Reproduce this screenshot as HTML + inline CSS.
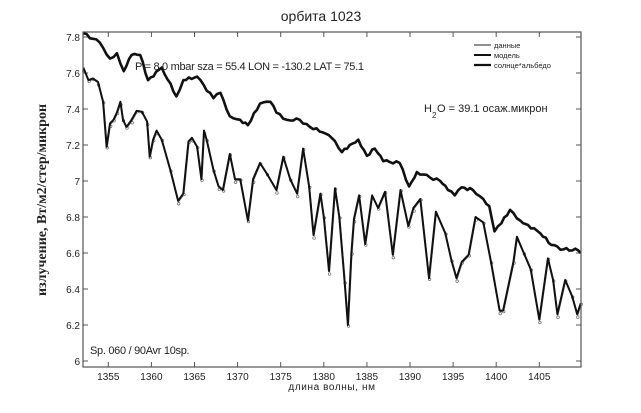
<!DOCTYPE html>
<html><head><meta charset="utf-8"><style>
html,body{margin:0;padding:0;background:#fff;}
svg{display:block;}
text{font-family:"Liberation Sans",sans-serif;fill:#222;}
</style></head><body>
<svg id="s" width="641" height="413" viewBox="0 0 641 413" xmlns="http://www.w3.org/2000/svg">
<rect x="0" y="0" width="641" height="413" fill="#fff"/>
<text x="321" y="21" font-size="14" text-anchor="middle">орбита 1023</text>
<g id="ax"></g>
<g id="curves"></g>
<rect x="83" y="32" width="498" height="335" fill="none" stroke="#555" stroke-width="1.2"/>
<text x="135" y="70" font-size="11" letter-spacing="-0.3">P   = 8.0 mbar sza = 55.4 LON = -130.2 LAT = 75.1</text>
<text x="424" y="112" font-size="11">H</text><text x="432" y="118" font-size="8">2</text><text x="437" y="112" font-size="11">O = 39.1 осаж.микрон</text>
<text x="90" y="354" font-size="11" letter-spacing="-0.3">Sp. 060 / 90Avr 10sp.</text>
<text x="332" y="390" font-size="10" text-anchor="middle" letter-spacing="0.6">длина волны, нм</text>
<text transform="translate(46,200) rotate(-90)" font-size="14" font-weight="bold" text-anchor="middle" style="font-family:'Liberation Serif',serif">излучение, Вт/м2/стер/микрон</text>
<g font-size="7.5">
<line x1="474" y1="45" x2="491" y2="45" stroke="#222" stroke-width="1"/><text x="494" y="48">данные</text>
<line x1="474" y1="55" x2="491" y2="55" stroke="#111" stroke-width="2"/><text x="494" y="58">модель</text>
<line x1="474" y1="65" x2="491" y2="65" stroke="#111" stroke-width="2.2"/><text x="494" y="68">солнце*альбедо</text>
</g>
</svg>
<script>
(function(){
var X=function(v){return 108.3+(v-1355)*8.62;};
var Y=function(a){return 361-(a-6)*180;};
var ns="http://www.w3.org/2000/svg";
var ax=document.getElementById('ax'),cv=document.getElementById('curves');
function el(p,t,a){var e=document.createElementNS(ns,t);for(var k in a)e.setAttribute(k,a[k]);p.appendChild(e);return e;}
for(var v=1355;v<=1405;v+=5){var x=X(v);
el(ax,'line',{x1:x,y1:367,x2:x,y2:362,stroke:'#555'});el(ax,'line',{x1:x,y1:32,x2:x,y2:37,stroke:'#555'});
var t=el(ax,'text',{x:x,y:380,'font-size':10,'text-anchor':'middle'});t.textContent=v;}
for(var i=0;i<=9;i++){var a=6+i*0.2,y=Y(a);
el(ax,'line',{x1:83,y1:y,x2:88,y2:y,stroke:'#555'});el(ax,'line',{x1:581,y1:y,x2:576,y2:y,stroke:'#555'});
var t=el(ax,'text',{x:80,y:y+4,'font-size':10,'text-anchor':'end'});t.textContent=(i%5==0)?String(Math.round(a)):a.toFixed(1);}
var sun=[[1352.1,7.82],[1354.0,7.77],[1355.2,7.68],[1356,7.71],[1356.8,7.61],[1357.7,7.70],[1358.7,7.70],[1359.6,7.56],[1361.2,7.63],[1362.9,7.47],[1363.7,7.56],[1365.3,7.58],[1367.2,7.46],[1368,7.49],[1369.1,7.36],[1370.3,7.34],[1371.2,7.31],[1372.6,7.43],[1373.8,7.44],[1374.5,7.38],[1375.7,7.34],[1377.2,7.34],[1378.4,7.30],[1379.9,7.27],[1380.9,7.24],[1382.1,7.16],[1383,7.20],[1384,7.23],[1385,7.14],[1385.9,7.18],[1386.9,7.11],[1388.8,7.10],[1389.9,6.97],[1390.8,7.05],[1392.3,7.02],[1393.5,7.00],[1394.4,6.95],[1395.2,6.92],[1396,6.965],[1397.3,6.95],[1398.5,6.90],[1399.2,6.86],[1399.8,6.72],[1400.6,6.765],[1401.6,6.84],[1402.8,6.78],[1403.7,6.755],[1405.1,6.71],[1406.4,6.645],[1407.8,6.62],[1409.5,6.615],[1409.8,6.60]];
// densify with small deterministic wiggle
var sd=[];
for(var j=0;j<sun.length-1;j++){var a0=sun[j],a1=sun[j+1];var n=Math.max(1,Math.round((a1[0]-a0[0])/0.35));
for(var k=0;k<n;k++){var f=k/n;var w=(k==0)?0:0.008*Math.sin(j*7.3+k*2.1);sd.push([a0[0]+(a1[0]-a0[0])*f,a0[1]+(a1[1]-a0[1])*f+w]);}}
sd.push(sun[sun.length-1]);
var low=[[1352.1,7.63],[1352.7,7.56],[1353.2,7.57],[1353.8,7.55],[1354.4,7.44],[1354.8,7.19],[1355.2,7.32],[1355.6,7.34],[1356.0,7.38],[1356.4,7.44],[1356.7,7.34],[1357.1,7.30],[1357.7,7.34],[1358.3,7.39],[1358.9,7.385],[1359.5,7.33],[1359.8,7.135],[1360.2,7.23],[1360.6,7.28],[1361.2,7.23],[1362.2,7.06],[1363.1,6.89],[1363.7,6.93],[1364.3,7.22],[1364.7,7.24],[1365.3,7.19],[1365.8,7.01],[1366.1,7.28],[1366.4,7.23],[1367.2,7.06],[1367.8,6.97],[1368.3,6.95],[1369.1,7.15],[1369.7,7.01],[1370.3,7.01],[1371.2,6.78],[1371.8,7.01],[1372.6,7.10],[1373.4,7.04],[1374.5,6.95],[1375.3,7.135],[1376.1,7.01],[1376.9,6.93],[1377.6,7.18],[1378.3,6.97],[1378.8,6.70],[1379.6,6.93],[1380.0,6.80],[1380.6,6.50],[1381.3,6.96],[1381.8,6.80],[1382.4,6.45],[1382.8,6.20],[1383.2,6.60],[1383.5,6.79],[1384.1,6.92],[1384.8,6.65],[1385.6,6.92],[1386.3,6.85],[1387.1,6.94],[1388.0,6.59],[1388.9,6.95],[1389.8,6.75],[1390.4,6.85],[1391.2,6.90],[1392.2,6.46],[1393.0,6.83],[1394.1,6.71],[1394.8,6.56],[1395.4,6.46],[1396.0,6.55],[1396.8,6.59],[1397.6,6.80],[1398.5,6.77],[1399.4,6.55],[1400.4,6.28],[1400.8,6.28],[1402.0,6.55],[1402.4,6.69],[1403.2,6.60],[1404.0,6.51],[1405.0,6.23],[1406.0,6.57],[1406.6,6.45],[1407.1,6.26],[1408.0,6.45],[1408.8,6.36],[1409.4,6.26],[1409.8,6.32]];
function pts(d,dx,dy){return d.map(function(p){return (X(p[0])+dx).toFixed(1)+','+(Y(p[1])+dy).toFixed(1);}).join(' ');}
el(cv,'polyline',{points:pts(low,0.6,1),fill:'none',stroke:'#888',"stroke-width":1});
low.forEach(function(p,i){el(cv,'circle',{cx:X(p[0])+0.6,cy:Y(p[1])+(i%3==0?3:1),r:1.3,fill:'#fff',stroke:'#666','stroke-width':0.7});});
el(cv,'polyline',{points:pts(low,0,0),fill:'none',stroke:'#111',"stroke-width":2,'stroke-linejoin':'round'});
el(cv,'polyline',{points:pts(sd,0,0),fill:'none',stroke:'#111',"stroke-width":2.6,'stroke-linejoin':'round'});
})();
</script>
</body></html>
